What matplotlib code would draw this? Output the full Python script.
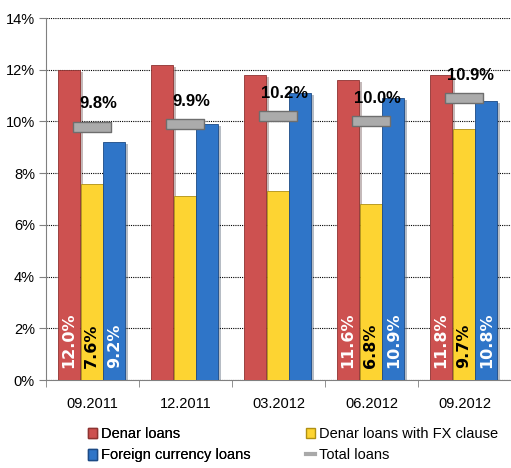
import matplotlib
matplotlib.use("Agg")
import matplotlib.pyplot as plt
import matplotlib.patheffects as pe
import numpy as np
from matplotlib.lines import Line2D
from matplotlib.patches import Patch

periods = ["09.2011", "12.2011", "03.2012", "06.2012", "09.2012"]
denar = [12.0, 12.2, 11.8, 11.6, 11.8]
denar_fx = [7.6, 7.1, 7.3, 6.8, 9.7]
foreign = [9.2, 9.9, 11.1, 10.9, 10.8]
total = [9.8, 9.9, 10.2, 10.0, 10.9]
# bars that carry a value label inside them
labelled = [0, 3, 4]

plt.rcParams["font.family"] = ["Liberation Sans", "DejaVu Sans"]

fig = plt.figure(figsize=(5.11, 4.68), dpi=100)
ax = fig.add_axes([0.09, 0.188, 0.91, 0.7735])

x = np.arange(len(periods))
w = 0.245
shadow = [pe.SimplePatchShadow(offset=(2, -1.5), alpha=0.3), pe.Normal()]
series = [
    (denar, -w, "#cd5150", "#8e3331", "white"),
    (denar_fx, 0, "#fdd432", "#b09012", "black"),
    (foreign, w, "#2f75c8", "#1c4a85", "white"),
]
for vals, off, col, edge, tcol in series:
    bars = ax.bar(x + off - 0.01, vals, w * 0.97, color=col, edgecolor=edge,
                  linewidth=0.6, zorder=3)
    for b in bars:
        b.set_path_effects(shadow)
    for i in labelled:
        ax.text(x[i] + off - 0.01, 0.45, f"{vals[i]:.1f}%", rotation=90,
                ha="center", va="bottom", color=tcol, fontsize=11.5,
                fontweight="bold", family="DejaVu Sans", zorder=5)

# total loans as flat grey dashes
dash = [(-2, -0.55), (2, -0.55), (2, 0.55), (-2, 0.55), (-2, -0.55)]
ax.plot(x, total, ls="none", marker=dash, markersize=28,
        markerfacecolor="#ababab", markeredgecolor="#6e6e6e",
        markeredgewidth=1.0, zorder=4)
for i, v in enumerate(total):
    ax.annotate(f"{v:.1f}%", (x[i], v), xytext=(4, 11), textcoords="offset points",
                ha="center", va="bottom", fontsize=12, fontweight="bold", zorder=5)

ax.set_xlim(-0.5, len(periods) - 0.5)
ax.set_ylim(0, 14)
ax.set_yticks(np.arange(0, 15, 2))
ax.set_yticklabels([f"{t}%" for t in range(0, 15, 2)], fontsize=10.5)
ax.yaxis.grid(True, color="black", linestyle=(0, (1, 1)), linewidth=0.8, zorder=0)
ax.set_axisbelow(True)

ax.set_xticks(x)
ax.set_xticklabels(periods, fontsize=10.5)
ax.tick_params(axis="x", length=0, pad=12)
ax.set_xticks(np.arange(-0.5, len(periods), 1.0), minor=True)
ax.tick_params(axis="x", which="minor", length=5, color="#808080")
ax.tick_params(axis="y", length=5, color="#808080", pad=3)

for s in ["top", "right"]:
    ax.spines[s].set_visible(False)
ax.spines["left"].set_color("#808080")
ax.spines["bottom"].set_color("#808080")

legend_kw = dict(loc="upper left", frameon=False, fontsize=10.5,
                 handlelength=0.6, handleheight=0.75, handletextpad=0.3,
                 labelspacing=0.5, borderpad=0, borderaxespad=0)
left = fig.legend([Patch(facecolor="#cd5150", edgecolor="#8e3331"),
                   Patch(facecolor="#2f75c8", edgecolor="#1c4a85")],
                  ["Denar loans", "Foreign currency loans"],
                  bbox_to_anchor=(88 / 511, 1 - 427 / 468), **legend_kw)
fig.add_artist(left)
fig.legend([Patch(facecolor="#fdd432", edgecolor="#b09012"),
            Line2D([], [], color="#a9a9a9", lw=3)],
           ["Denar loans with FX clause", "Total loans"],
           bbox_to_anchor=(306 / 511, 1 - 427 / 468), **legend_kw)

fig.savefig("out.png", dpi=100)
